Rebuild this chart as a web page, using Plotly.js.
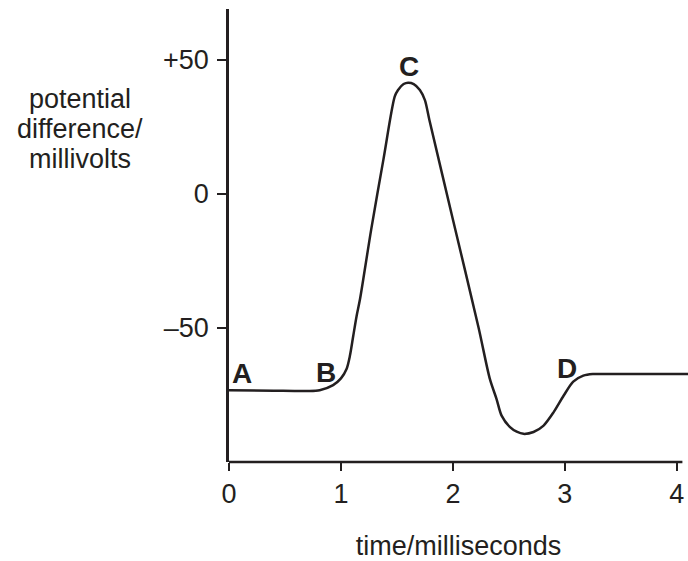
<!DOCTYPE html>
<html>
<head>
<meta charset="utf-8">
<script src="https://cdn.plot.ly/plotly-3.0.1.min.js"></script>
<style>
  html, body { margin: 0; padding: 0; background: #ffffff; }
  #chart { width: 688px; height: 561px; }
</style>
</head>
<body>
<div id="chart"></div>
<script>
// ---- data ----
const timeMs = [0, 0.4, 0.7, 0.81, 0.93, 1.0, 1.05, 1.08, 1.11, 1.14, 1.17, 1.27, 1.38, 1.48, 1.51, 1.56, 1.60, 1.65, 1.705, 1.75, 1.79, 2.0, 2.23, 2.33, 2.39, 2.435, 2.51, 2.57, 2.63, 2.72, 2.81, 2.90, 2.99, 3.075, 3.165, 3.25, 3.5, 4.1];
const potentialMv = [-73.2, -73.4, -73.5, -73.2, -71.3, -68.8, -65.3, -60.4, -52.9, -45.5, -39.3, -13.3, 13, 36.3, 38.8, 41, 41.5, 41, 38.8, 35, 27.6, -9.5, -50, -69, -76.5, -82.7, -87, -88.7, -89.5, -88.8, -86.4, -81.4, -75.2, -70, -67.8, -67.2, -67.2, -67.2];

const xTickVals = [0, 1, 2, 3, 4];
const xTickText = ['0', '1', '2', '3', '4'];
const yTickVals = [-50, 0, 50];
const yTickText = ['\u201350', '0', '+50'];

const pointLabels = ['A', 'B', 'C', 'D'];
const pointLabelTime = [0.113, 0.865, 1.605, 3.017];
const pointLabelMv = [-67.1, -66.6, 47.4, -65.3];

const yTitleLines = ['potential', 'difference/', 'millivolts'];
const xTitleText = 'time/milliseconds';

// ---- styling ----
const ink = '#231f20';
const fontFamily = '"Liberation Sans", Arial, Helvetica, sans-serif';

const trace = {
  x: timeMs,
  y: potentialMv,
  type: 'scatter',
  mode: 'lines',
  line: { color: ink, width: 2.5, shape: 'spline', smoothing: 0.8 },
  hoverinfo: 'skip',
  showlegend: false
};

const annotations = pointLabels.map((t, i) => ({
  text: t,
  x: pointLabelTime[i],
  y: pointLabelMv[i],
  xref: 'x', yref: 'y',
  showarrow: false,
  xanchor: 'center', yanchor: 'middle',
  font: { family: fontFamily, size: 28, color: ink, weight: 'bold' }
}));

// y-axis title drawn horizontally, one line each
const yTitleCentersPx = [99, 129, 159];
yTitleLines.forEach((line, i) => {
  annotations.push({
    text: line,
    xref: 'paper', yref: 'paper',
    x: (80 - 229) / 459,
    y: (462 - yTitleCentersPx[i]) / 453,
    xanchor: 'center', yanchor: 'middle',
    showarrow: false,
    font: { family: fontFamily, size: 27, color: ink }
  });
});

const layout = {
  width: 688,
  height: 561,
  margin: { l: 229, r: 0, t: 9, b: 99, pad: 0 },
  paper_bgcolor: '#ffffff',
  plot_bgcolor: '#ffffff',
  font: { family: fontFamily, size: 27, color: ink },
  showlegend: false,
  xaxis: {
    range: [0, 4.1],
    tickvals: xTickVals,
    ticktext: xTickText,
    ticks: 'outside',
    ticklen: 8,
    tickwidth: 2.5,
    tickcolor: ink,
    showline: false,
    showgrid: false,
    zeroline: false,
    tickfont: { family: fontFamily, size: 27, color: ink },
    title: { text: xTitleText, standoff: 27, font: { family: fontFamily, size: 27, color: ink } },
    fixedrange: true
  },
  yaxis: {
    range: [-100, 69],
    tickvals: yTickVals,
    ticktext: yTickText,
    ticks: 'outside',
    ticklen: 9,
    tickwidth: 2.5,
    tickcolor: ink,
    ticklabelstandoff: 3,
    showline: true,
    linewidth: 2.7,
    linecolor: ink,
    showgrid: false,
    zeroline: false,
    tickfont: { family: fontFamily, size: 27, color: ink },
    fixedrange: true
  },
  shapes: [{
    type: 'line',
    xref: 'x', yref: 'paper',
    x0: -0.012, x1: 4.05,
    y0: 0, y1: 0,
    line: { color: ink, width: 2.7 }
  }],
  annotations: annotations
};

Plotly.newPlot('chart', [trace], layout, { staticPlot: true, displayModeBar: false });
</script>
</body>
</html>
